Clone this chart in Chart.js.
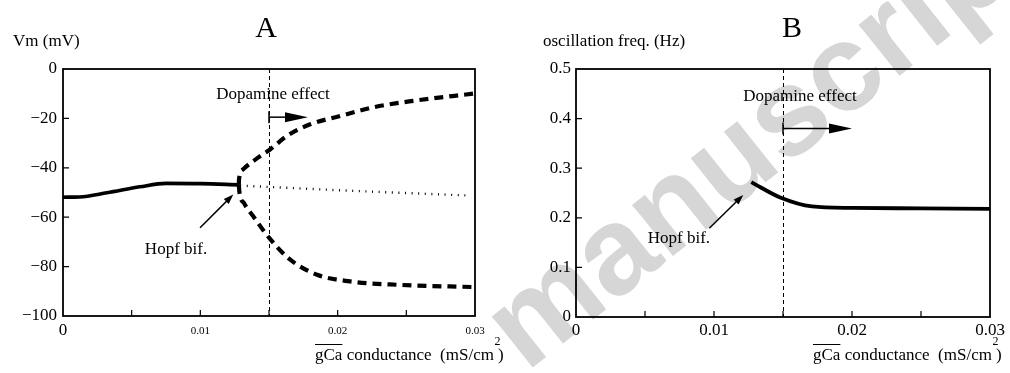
<!DOCTYPE html>
<html>
<head>
<meta charset="utf-8">
<script src="https://cdn.jsdelivr.net/npm/chart.js@4.4.1/dist/chart.umd.min.js"></script>
<style>
  html, body { margin: 0; padding: 0; background: #ffffff; }
  #wrap { position: relative; width: 1010px; height: 373px; overflow: hidden; }
  #wrap canvas { position: absolute; top: 0; }
  #cA { left: 0; }
  #cB { left: 505px; }
</style>
</head>
<body>
<div id="wrap">
  <canvas id="cA" width="505" height="373"></canvas>
  <canvas id="cB" width="505" height="373"></canvas>
</div>
<script>
// ---------- Panel A: membrane potential vs gCa ----------
// stable resting potential (below the Hopf bifurcation)
const gCaSteady = [0, 0.0012, 0.0032, 0.0056, 0.0075, 0.0100, 0.0128];
const vmSteady  = [-51.9, -51.8, -50.1, -47.7, -46.3, -46.4, -46.9];
// oscillation maximum
const gCaUpper = [0.0128, 0.01282, 0.0131, 0.0142, 0.0151, 0.0163, 0.0180, 0.0202, 0.0226, 0.0255, 0.0300];
const vmUpper  = [-46.9, -44.5, -40.7, -35.9, -32.5, -27.1, -22.4, -19.0, -15.5, -12.9, -9.9];
// oscillation minimum
const gCaLower = [0.0128, 0.01285, 0.0132, 0.0139, 0.0150, 0.0165, 0.0185, 0.0209, 0.0245, 0.0300];
const vmLower  = [-46.9, -50.0, -54.5, -60.0, -68.3, -77.0, -83.3, -86.0, -87.4, -88.3];
// unstable fixed point
const gCaUnstable = [0.0129, 0.0210, 0.0294];
const vmUnstable  = [-47.2, -49.3, -51.2];

// ---------- Panel B: oscillation frequency vs gCa ----------
const gCaFreq = [0.0127, 0.0148, 0.0171, 0.0200, 0.0250, 0.0300];
const freqHz  = [0.272, 0.241, 0.223, 0.220, 0.219, 0.218];

// ---------- axes ----------
const gCaTickLabels = [0, 0.01, 0.02, 0.03];
const gCaTickMarks  = [0.005, 0.01, 0.015, 0.02, 0.025];
const vmTickMarks   = [-20, -40, -60, -80];
const freqTickMarks = [0.1, 0.2, 0.3, 0.4];
const dopamineOnset = 0.015;

const SERIF = '"Liberation Serif", "Times New Roman", serif';
const INK = '#000000';

function zip(xs, ys) { return xs.map((x, i) => ({ x: x, y: ys[i] })); }

function arrowHead(ctx, x1, y1, x2, y2, len, half) {
  const a = Math.atan2(y2 - y1, x2 - x1);
  ctx.beginPath();
  ctx.moveTo(x2, y2);
  ctx.lineTo(x2 - len * Math.cos(a) + half * Math.sin(a), y2 - len * Math.sin(a) - half * Math.cos(a));
  ctx.lineTo(x2 - len * Math.cos(a) - half * Math.sin(a), y2 - len * Math.sin(a) + half * Math.cos(a));
  ctx.closePath();
  ctx.fill();
}

function arrow(ctx, x1, y1, x2, y2, len, half, lw) {
  const a = Math.atan2(y2 - y1, x2 - x1);
  ctx.lineWidth = lw;
  ctx.beginPath();
  ctx.moveTo(x1, y1);
  ctx.lineTo(x2 - (len - 1) * Math.cos(a), y2 - (len - 1) * Math.sin(a));
  ctx.stroke();
  arrowHead(ctx, x1, y1, x2, y2, len, half);
}

// gCa axis title with an overline over "gCa" and a raised exponent
function drawGcaTitle(ctx, x, baseline) {
  ctx.save();
  ctx.fillStyle = INK; ctx.strokeStyle = INK;
  ctx.textAlign = 'left'; ctx.textBaseline = 'alphabetic';
  ctx.font = '17px ' + SERIF;
  const g = 'gCa';
  const wg = ctx.measureText(g).width;
  ctx.fillText(g, x, baseline);
  ctx.lineWidth = 1;
  ctx.beginPath(); ctx.moveTo(x, baseline - 15.5); ctx.lineTo(x + wg, baseline - 15.5); ctx.stroke();
  let cx = x + wg;
  const rest = ' conductance  (mS/cm';
  ctx.fillText(rest, cx, baseline);
  cx += ctx.measureText(rest).width;
  ctx.font = '12px ' + SERIF;
  ctx.fillText('2', cx + 0.5, baseline - 15);
  ctx.font = '17px ' + SERIF;
  ctx.fillText(')', cx + 4, baseline);
  ctx.restore();
}

// light diagonal watermark running across both panels
const WATERMARK = 'manuscript';
function watermarkPlugin(offsetX) {
  return {
    id: 'watermark',
    beforeDraw(chart) {
      const ctx = chart.ctx;
      ctx.save();
      ctx.translate(526 - offsetX, 373);
      ctx.rotate(-38.5 * Math.PI / 180);
      ctx.font = 'bold 124px "Liberation Sans", Arial, sans-serif';
      ctx.fillStyle = '#d6d6d6';
      ctx.textAlign = 'left';
      ctx.textBaseline = 'alphabetic';
      ctx.fillText(WATERMARK, 0, 0);
      ctx.restore();
    }
  };
}

function decorPlugin(spec) {
  return {
    id: 'decor',
    afterDatasetsDraw(chart) {
      const ctx = chart.ctx;
      const a = chart.chartArea;
      const sx = chart.scales.x, sy = chart.scales.y;
      const px = v => sx.getPixelForValue(v);
      const py = v => sy.getPixelForValue(v);
      ctx.save();
      ctx.strokeStyle = INK; ctx.fillStyle = INK;

      // dopamine onset line
      ctx.lineWidth = 1;
      ctx.setLineDash([4, 3]);
      ctx.beginPath();
      ctx.moveTo(Math.round(px(dopamineOnset)) + 0.5, a.top);
      ctx.lineTo(Math.round(px(dopamineOnset)) + 0.5, a.bottom);
      ctx.stroke();
      ctx.setLineDash([]);

      // frame
      ctx.lineWidth = 1.8;
      ctx.strokeRect(a.left, a.top, a.right - a.left, a.bottom - a.top);

      // inward tick marks
      ctx.lineWidth = 1.2;
      ctx.beginPath();
      gCaTickMarks.forEach(v => { const x = px(v); ctx.moveTo(x, a.bottom); ctx.lineTo(x, a.bottom - 6); });
      spec.yTickMarks.forEach(v => { const y = py(v); ctx.moveTo(a.left, y); ctx.lineTo(a.left + 6, y); });
      ctx.stroke();

      // dopamine arrow
      const d = spec.dopamine;
      const dy = py(d.y);
      ctx.lineWidth = 1.5;
      ctx.beginPath(); ctx.moveTo(px(dopamineOnset), dy - 6); ctx.lineTo(px(dopamineOnset), dy + 6); ctx.stroke();
      arrow(ctx, px(dopamineOnset), dy, px(d.tipX), dy, 23, 5, 1.5);

      // Hopf arrow
      const h = spec.hopf;
      arrow(ctx, px(h.fromX), py(h.fromY), px(h.toX), py(h.toY), 10, 3.5, 1.5);

      // annotation text
      ctx.font = '17px ' + SERIF;
      ctx.textAlign = 'center'; ctx.textBaseline = 'middle';
      ctx.fillText('Dopamine effect', px(d.textX), py(d.textY));
      ctx.fillText('Hopf bif.', px(h.textX), py(h.textY));

      // panel letter and y-axis title
      ctx.font = '30px ' + SERIF;
      ctx.fillText(spec.letter, spec.letterX, 29);
      ctx.font = '17px ' + SERIF;
      ctx.textAlign = 'left';
      ctx.fillText(spec.yTitle, spec.yTitleX, 42);
      ctx.restore();

      drawGcaTitle(ctx, spec.xTitleX, 360);
    }
  };
}

function makeChart(canvasId, offsetX, area, datasets, yScale, xTickFont, xPad, spec) {
  const W = 505, H = 373;
  return new Chart(document.getElementById(canvasId), {
    type: 'scatter',
    data: { datasets: datasets },
    options: {
      responsive: false,
      animation: false,
      devicePixelRatio: 1,
      layout: { padding: { top: area.top, right: W - area.right, left: 0, bottom: 0 } },
      plugins: { legend: { display: false }, tooltip: { enabled: false } },
      elements: { point: { radius: 0, hoverRadius: 0 } },
      scales: {
        x: {
          type: 'linear', min: 0, max: 0.03,
          grid: { display: false, drawTicks: false },
          border: { display: false },
          afterBuildTicks: s => { s.ticks = gCaTickLabels.map(v => ({ value: v })); },
          afterFit: s => { s.height = H - area.bottom; },
          ticks: {
            color: INK, padding: xPad, maxRotation: 0, autoSkip: false,
            font: xTickFont,
            callback: v => v === 0 ? '0' : Number(v).toFixed(2)
          }
        },
        y: Object.assign({
          type: 'linear',
          grid: { display: false, drawTicks: false },
          border: { display: false },
          afterFit: s => { s.width = area.left; }
        }, yScale)
      }
    },
    plugins: [watermarkPlugin(offsetX), decorPlugin(spec)]
  });
}

// Panel A
makeChart('cA', 0, { left: 63, right: 475, top: 69, bottom: 316 }, [
  { data: zip(gCaSteady, vmSteady), showLine: true, borderColor: INK, borderWidth: 3.6,
    cubicInterpolationMode: 'monotone' },
  { data: zip(gCaUpper, vmUpper), showLine: true, borderColor: INK, borderWidth: 4.2,
    borderDash: [9, 6], cubicInterpolationMode: 'monotone' },
  { data: zip(gCaLower, vmLower), showLine: true, borderColor: INK, borderWidth: 4.2,
    borderDash: [9, 6], cubicInterpolationMode: 'monotone' },
  { data: zip(gCaUnstable, vmUnstable), showLine: true, borderColor: INK, borderWidth: 2.4,
    borderDash: [1, 5.6], cubicInterpolationMode: 'monotone' }
], {
  min: -100, max: 0,
  ticks: { stepSize: 20, color: INK, padding: 6, font: { family: SERIF, size: 17 },
           callback: v => String(v).replace('-', '\u2212') }
}, c => (c.tick && c.tick.value === 0) ? { family: SERIF, size: 17, lineHeight: 1.2 }
                                        : { family: SERIF, size: 11, lineHeight: 2.0 },
4, {
  letter: 'A', letterX: 266, yTitle: 'Vm (mV)', yTitleX: 13, xTitleX: 315,
  yTickMarks: vmTickMarks,
  dopamine: { y: -19.5, tipX: 0.01784, textX: 0.01529, textY: -10.2 },
  hopf: { fromX: 0.00998, fromY: -64.3, toX: 0.0124, toY: -50.8, textX: 0.00823, textY: -73.2 }
});

// Panel B
makeChart('cB', 505, { left: 71, right: 485, top: 69, bottom: 317 }, [
  { data: zip(gCaFreq, freqHz), showLine: true, borderColor: INK, borderWidth: 3.8,
    cubicInterpolationMode: 'monotone' }
], {
  min: 0, max: 0.5,
  ticks: { stepSize: 0.1, color: INK, padding: 5, font: { family: SERIF, size: 17 },
           callback: v => v === 0 ? '0' : Number(v).toFixed(1) }
}, { family: SERIF, size: 17, lineHeight: 1.2 },
3, {
  letter: 'B', letterX: 287, yTitle: 'oscillation freq. (Hz)', yTitleX: 38, xTitleX: 308,
  yTickMarks: freqTickMarks,
  dopamine: { y: 0.38, tipX: 0.0200, textX: 0.01623, textY: 0.444 },
  hopf: { fromX: 0.00966, fromY: 0.179, toX: 0.01212, toY: 0.246, textX: 0.00746, textY: 0.159 }
});
</script>
</body>
</html>
